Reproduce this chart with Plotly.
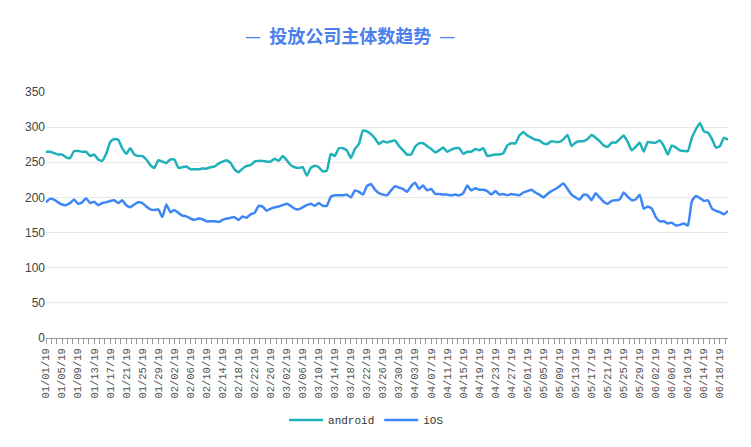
import pandas as pd
import plotly.graph_objects as go

start_date = "2019-01-01"
end_date = "2019-06-20"
dates = pd.date_range(start_date, end_date, freq="D")

android = [
    265, 265, 263, 261, 261, 257, 256, 266, 266, 265,
    265, 259, 261, 254, 252, 262, 279, 283, 282, 270,
    262, 270, 261, 259, 259, 254, 246, 242, 253, 251,
    249, 254, 254, 242, 243, 244, 240, 240, 240, 241,
    241, 243, 244, 248, 251, 253, 249, 240, 236, 241,
    245, 246, 251, 252, 252, 251, 251, 255, 252, 259,
    253, 246, 243, 242, 243, 231, 242, 245, 243, 237,
    238, 262, 259, 270, 270, 267, 256, 269, 276, 295,
    294, 290, 284, 276, 280, 278, 280, 281, 273, 267,
    261, 261, 272, 277, 277, 273, 269, 264, 267, 271,
    265, 268, 270, 270, 262, 265, 265, 269, 267, 270,
    259, 260, 261, 261, 263, 274, 277, 277, 288, 293,
    288, 285, 282, 281, 277, 276, 280, 279, 279, 283,
    289, 273, 278, 280, 280, 283, 289, 285, 280, 274,
    272, 278, 278, 283, 288, 279, 267, 272, 278, 265,
    279, 278, 278, 281, 273, 261, 274, 271, 267, 266,
    266, 285, 297, 306, 294, 292, 283, 271, 273, 285, 282,
]

ios = [
    193, 198, 197, 193, 190, 189, 192, 197, 191, 193,
    199, 192, 194, 189, 192, 193, 195, 196, 192, 196,
    189, 186, 190, 193, 192, 187, 183, 182, 183, 172,
    190, 179, 182, 178, 174, 173, 170, 168, 170, 169,
    166, 166, 166, 165, 168, 170, 171, 172, 168, 173,
    171, 176, 178, 188, 187, 181, 184, 186, 187, 189,
    191, 188, 184, 183, 186, 189, 191, 188, 192, 188,
    188, 201, 203, 203, 203, 204, 200, 210, 208, 204,
    216, 219, 211, 206, 204, 203, 210, 216, 214, 212,
    208, 216, 221, 212, 217, 210, 212, 205, 205, 204,
    204, 203, 204, 203, 206, 217, 210, 213, 211, 211,
    209, 204, 209, 204, 205, 203, 205, 204, 203, 207,
    209, 211, 207, 204, 200, 205, 209, 212, 216, 220,
    212, 204, 200, 197, 204, 203, 196, 206, 200, 194,
    191, 195, 196, 197, 207, 201, 196, 197, 204, 184,
    187, 184, 172, 166, 166, 163, 164, 160, 161, 163,
    160, 195, 202, 199, 195, 196, 184, 181, 179, 176, 181,
]

series_names = ["android", "iOS"]
series_colors = ["#1fb1b9", "#3d86f5"]
title_text = "投放公司主体数趋势"

fig = go.Figure()
for name, vals, col in zip(series_names, [android, ios], series_colors):
    fig.add_trace(go.Scatter(
        x=dates, y=vals, name=name, mode="lines",
        line=dict(color=col, width=2.5, shape="spline", smoothing=0.4),
    ))

fig.update_layout(
    width=743, height=439,
    paper_bgcolor="white", plot_bgcolor="white",
    margin=dict(l=38, r=23, t=84, b=103),
    showlegend=True,
    legend=dict(
        orientation="h", x=0.47, xanchor="center", y=-0.333, yanchor="middle",
        font=dict(family="Liberation Mono", size=11, color="#333"),
        itemwidth=34,
    ),
    xaxis=dict(
        type="date",
        range=[start_date, end_date],
        tickformat="%m/%d/%y",
        dtick=4 * 86400000,
        tick0=start_date,
        tickangle=-90,
        ticks="outside", ticklen=5, tickcolor="#999",
        minor=dict(dtick=115200000, tick0=start_date, ticks="outside",
                   ticklen=5, tickcolor="#999", showgrid=False),
        showline=True, linecolor="#999", linewidth=1,
        showgrid=False, zeroline=False,
        tickfont=dict(family="Liberation Mono", size=10.5, color="#555"),
    ),
    yaxis=dict(
        range=[0, 350], dtick=50,
        showgrid=True, gridcolor="#e9e9e9", gridwidth=1,
        zeroline=False, showline=False, ticks="",
        tickfont=dict(family="Liberation Sans", size=12, color="#444"),
    ),
    annotations=[
        dict(
            text="—  <b>" + title_text + "</b>  —",
            xref="paper", yref="paper", x=0.446, y=1.0 + 58 / 252,
            xanchor="center", yanchor="middle", showarrow=False,
            font=dict(family="Noto Sans CJK SC", size=18, color="#4a80ee"),
        )
    ],
)

fig.write_html("out.html")
